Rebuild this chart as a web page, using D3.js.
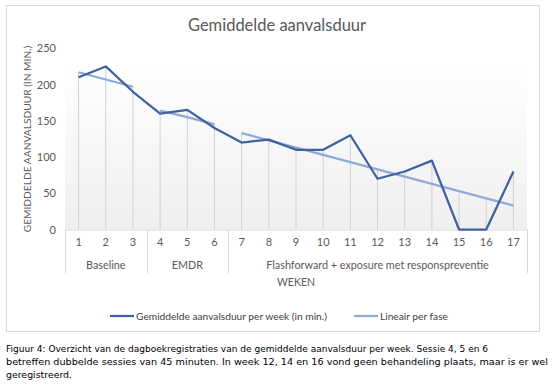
<!DOCTYPE html>
<html>
<head>
<meta charset="utf-8">
<script src="https://cdn.jsdelivr.net/npm/d3@7"></script>
<style>
  body { margin: 0; background: #fff; }
  svg { display: block; }
  .as text { fill: #595959; font-family: Lato, "Open Sans", sans-serif; }
</style>
</head>
<body>
<svg id="grafiek" width="553" height="384"></svg>
<script>
// gegevens
const weken = [1, 2, 3, 4, 5, 6, 7, 8, 9, 10, 11, 12, 13, 14, 15, 16, 17];
const aanvalsduur = [210, 225, 190, 160, 165, 140, 120, 124, 110, 110, 130, 70, 80, 95, 0, 0, 80];
const fasen = ["Baseline", "EMDR", "Flashforward + exposure met responspreventie"];
const faseWeken = [[1, 2, 3], [4, 5, 6], [7, 8, 9, 10, 11, 12, 13, 14, 15, 16, 17]];
const lineairPerFase = [
  [217, 207, 197],
  [164, 155, 145],
  [133, 123, 113, 103, 93, 83, 73, 63, 53, 43, 33]
];
const yTicks = [0, 50, 100, 150, 200, 250];
const reeksNamen = ["Gemiddelde aanvalsduur per week (in min.)", "Lineair per fase"];
const kleuren = ["#41609e", "#8eaadb"];

const svg = d3.select("#grafiek");
const font = 'Lato, "Open Sans", sans-serif';

// rand van het grafiekgebied
svg.append("rect")
  .attr("x", 6.5).attr("y", 5.5)
  .attr("width", 533).attr("height", 326)
  .attr("fill", "#fff")
  .attr("stroke", "#d9d9d9");

const x = d3.scaleBand().domain(weken).range([65, 527]).padding(0);
const y = d3.scaleLinear().domain([0, 250]).range([229.5, 48.3]);
const cx = w => x(w) + x.bandwidth() / 2;

// achtergrond met verloop
const defs = svg.append("defs");
const grad = defs.append("linearGradient").attr("id", "verloop")
  .attr("x1", 0).attr("y1", 0).attr("x2", 0).attr("y2", 1);
grad.append("stop").attr("offset", "0%").attr("stop-color", "#ffffff");
grad.append("stop").attr("offset", "100%").attr("stop-color", "#efefef");
svg.append("rect")
  .attr("x", 65).attr("y", 62)
  .attr("width", 462).attr("height", y(0) - 62)
  .attr("fill", "url(#verloop)");

// titel
svg.append("text")
  .attr("x", 277).attr("y", 31)
  .attr("text-anchor", "middle")
  .attr("font-family", font).attr("font-size", 16.5)
  .attr("fill", "#595959")
  .text("Gemiddelde aanvalsduur");

// valloodlijnen: van hoogste punt naar de as
const trendPerWeek = new Map();
faseWeken.forEach((ws, i) => ws.forEach((w, j) => trendPerWeek.set(w, lineairPerFase[i][j])));
svg.append("g").selectAll("line")
  .data(weken)
  .join("line")
  .attr("x1", d => cx(d)).attr("x2", d => cx(d))
  .attr("y1", (d, i) => y(Math.max(aanvalsduur[i], trendPerWeek.get(d))))
  .attr("y2", y(0))
  .attr("stroke", "#d0d0d0")
  .attr("stroke-width", 1);

// y-as
const yAs = svg.append("g").attr("class", "as")
  .attr("transform", "translate(56,0)")
  .call(d3.axisLeft(y).tickValues(yTicks).tickSize(0).tickPadding(0));
yAs.select(".domain").remove();
yAs.selectAll("text").attr("font-size", 11);

// x-as
const xAs = svg.append("g").attr("class", "as")
  .attr("transform", `translate(0,${y(0)})`)
  .call(d3.axisBottom(x).tickSize(0).tickPadding(9));
xAs.select(".domain").attr("stroke", "#d9d9d9").attr("d", "M65,0.5H527");
xAs.selectAll("text").attr("font-size", 11);

// scheidingslijnen tussen fasen
const grenzen = [65].concat(faseWeken.map(ws => x(ws[ws.length - 1]) + x.bandwidth()));
svg.append("g").selectAll("line")
  .data(grenzen)
  .join("line")
  .attr("x1", d => Math.round(d) + 0.5).attr("x2", d => Math.round(d) + 0.5)
  .attr("y1", y(0)).attr("y2", 273)
  .attr("stroke", "#d9d9d9");

// fase-labels
svg.append("g").selectAll("text")
  .data(fasen)
  .join("text")
  .attr("x", (d, i) => (x(faseWeken[i][0]) + x(faseWeken[i][faseWeken[i].length - 1]) + x.bandwidth()) / 2)
  .attr("y", 269)
  .attr("text-anchor", "middle")
  .attr("font-family", font).attr("font-size", 10.8)
  .attr("fill", "#595959")
  .text(d => d);

// astitels
svg.append("text")
  .attr("x", 296).attr("y", 286)
  .attr("text-anchor", "middle")
  .attr("font-family", font).attr("font-size", 10.5)
  .attr("fill", "#595959")
  .text("WEKEN");
svg.append("text")
  .attr("transform", "translate(31,139) rotate(-90)")
  .attr("text-anchor", "middle")
  .attr("font-family", font).attr("font-size", 10.2)
  .attr("fill", "#595959")
  .text("GEMIDDELDE AANVALSDUUR (IN MIN.)");

// lijnen
const lijn = d3.line().x(d => cx(d[0])).y(d => y(d[1]));
faseWeken.forEach((ws, i) => {
  svg.append("path")
    .attr("d", lijn(ws.map((w, j) => [w, lineairPerFase[i][j]])))
    .attr("fill", "none")
    .attr("stroke", kleuren[1])
    .attr("stroke-width", 2.25);
});
svg.append("path")
  .attr("d", lijn(weken.map((w, i) => [w, aanvalsduur[i]])))
  .attr("fill", "none")
  .attr("stroke", kleuren[0])
  .attr("stroke-width", 2.25)
  .attr("stroke-linejoin", "round");

// legenda
const legX = [110, 354];
const legenda = svg.append("g").selectAll("g")
  .data(reeksNamen)
  .join("g")
  .attr("transform", (d, i) => `translate(${legX[i]},316)`);
legenda.append("line")
  .attr("x1", 0).attr("x2", 24)
  .attr("stroke", (d, i) => kleuren[i])
  .attr("stroke-width", 2.25);
legenda.append("text")
  .attr("x", 26).attr("y", 3.5)
  .attr("font-family", font).attr("font-size", 10.2)
  .attr("fill", "#404040")
  .text(d => d);

// onderschrift
const onderschrift = [
  "Figuur 4: Overzicht van de dagboekregistraties van de gemiddelde aanvalsduur per week. Sessie 4, 5 en 6",
  "betreffen dubbelde sessies van 45 minuten. In week 12, 14 en 16 vond geen behandeling plaats, maar is er wel",
  "geregistreerd."
];
const breedtes = [482, 542, null];
svg.append("g").selectAll("text")
  .data(onderschrift)
  .join("text")
  .attr("x", 6)
  .attr("y", (d, i) => 352 + i * 13)
  .attr("font-family", "'DejaVu Sans', Verdana, sans-serif")
  .attr("font-size", 9.4)
  .attr("fill", "#000")
  .each(function (d, i) {
    if (breedtes[i]) d3.select(this).attr("textLength", breedtes[i]).attr("lengthAdjust", "spacingAndGlyphs");
  })
  .text(d => d);
</script>
</body>
</html>
